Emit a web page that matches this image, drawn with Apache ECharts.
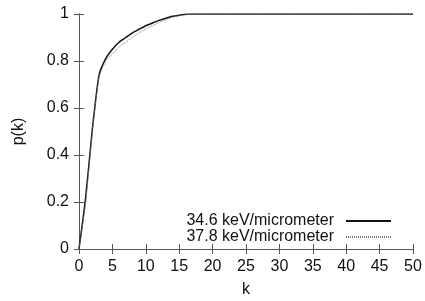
<!DOCTYPE html>
<html>
<head>
<meta charset="utf-8">
<script src="https://cdn.jsdelivr.net/npm/echarts@6/dist/echarts.min.js"></script>
<style>
  html, body { margin: 0; padding: 0; background: #fff; }
  #chart { width: 425px; height: 301px; }
</style>
</head>
<body>
<div id="chart"></div>
<script>
var kValues = [0, 1, 2, 3, 4, 5, 6, 7, 8, 9, 10, 11, 12, 13, 14, 15, 16, 17, 18, 20, 25, 30, 35, 40, 45, 50];
var p346 = [0, 0.22, 0.51, 0.74, 0.81, 0.85, 0.88, 0.90, 0.92, 0.935, 0.95, 0.962, 0.973, 0.982, 0.99, 0.995, 0.999, 1, 1, 1, 1, 1, 1, 1, 1, 1];
var p378 = [0, 0.20, 0.50, 0.73, 0.80, 0.83, 0.86, 0.88, 0.90, 0.92, 0.936, 0.95, 0.964, 0.976, 0.986, 0.993, 0.997, 0.999, 1, 1, 1, 1, 1, 1, 1, 1];
var xTicks = [0, 5, 10, 15, 20, 25, 30, 35, 40, 45, 50];
var yTicks = [0, 0.2, 0.4, 0.6, 0.8, 1];

function pairs(xs, ys) {
  return xs.map(function(x, i) { return [x, ys[i]]; });
}

var chart = echarts.init(document.getElementById('chart'));
var font = 'Liberation Sans, Arial, sans-serif';
var txt = { fontFamily: font, fontSize: 16, color: '#111' };
var axisLine = { show: true, lineStyle: { color: '#555', width: 1 } };
var tick = { show: true, inside: true, length: 5, lineStyle: { color: '#555' } };

chart.setOption({
  animation: false,
  grid: { left: 79, right: 12, top: 14, bottom: 52, outerBoundsMode: 'none', containLabel: false },
  legend: {
    orient: 'vertical',
    right: 33,
    top: 213,
    padding: 0,
    align: 'right',
    itemWidth: 45,
    itemHeight: 12,
    itemGap: 0,
    itemStyle: { opacity: 0 },
    textStyle: Object.assign({ padding: [0, 7, 0, 0], lineHeight: 16 }, txt),
    data: ['34.6 keV/micrometer', '37.8 keV/micrometer']
  },
  xAxis: [{
    type: 'value', min: 0, max: 50, interval: 5,
    name: 'k', nameLocation: 'middle', nameGap: 33,
    nameTextStyle: txt,
    axisLine: axisLine, axisTick: tick,
    axisLabel: Object.assign({ margin: 10 }, txt),
    splitLine: { show: false }
  }, {
    type: 'value', min: 0, max: 50, interval: 5, position: 'top',
    axisLine: axisLine, axisTick: tick, axisLabel: { show: false }, splitLine: { show: false }
  }],
  yAxis: [{
    type: 'value', min: 0, max: 1, interval: 0.2,
    name: 'p(k)', nameLocation: 'middle', nameGap: 52,
    nameTextStyle: txt,
    axisLine: axisLine, axisTick: tick,
    axisLabel: Object.assign({ margin: 10,
      formatter: function(v) { return String(Math.round(v * 10) / 10); } }, txt),
    splitLine: { show: false }
  }, {
    type: 'value', min: 0, max: 1, interval: 0.2, position: 'right',
    axisLine: axisLine, axisTick: tick, axisLabel: { show: false }, splitLine: { show: false }
  }],
  series: [{
    name: '34.6 keV/micrometer',
    type: 'line',
    data: pairs(kValues, p346),
    showSymbol: false, symbol: 'none',
    smooth: 0.2,
    lineStyle: { color: '#111', width: 1.5 },
    itemStyle: { color: '#111' }
  }, {
    name: '37.8 keV/micrometer',
    type: 'line',
    data: pairs(kValues, p378),
    showSymbol: false, symbol: 'none',
    smooth: 0.2,
    lineStyle: { color: '#777', width: 1, type: [1, 1] },
    itemStyle: { color: '#777' }
  }]
});
</script>
</body>
</html>
